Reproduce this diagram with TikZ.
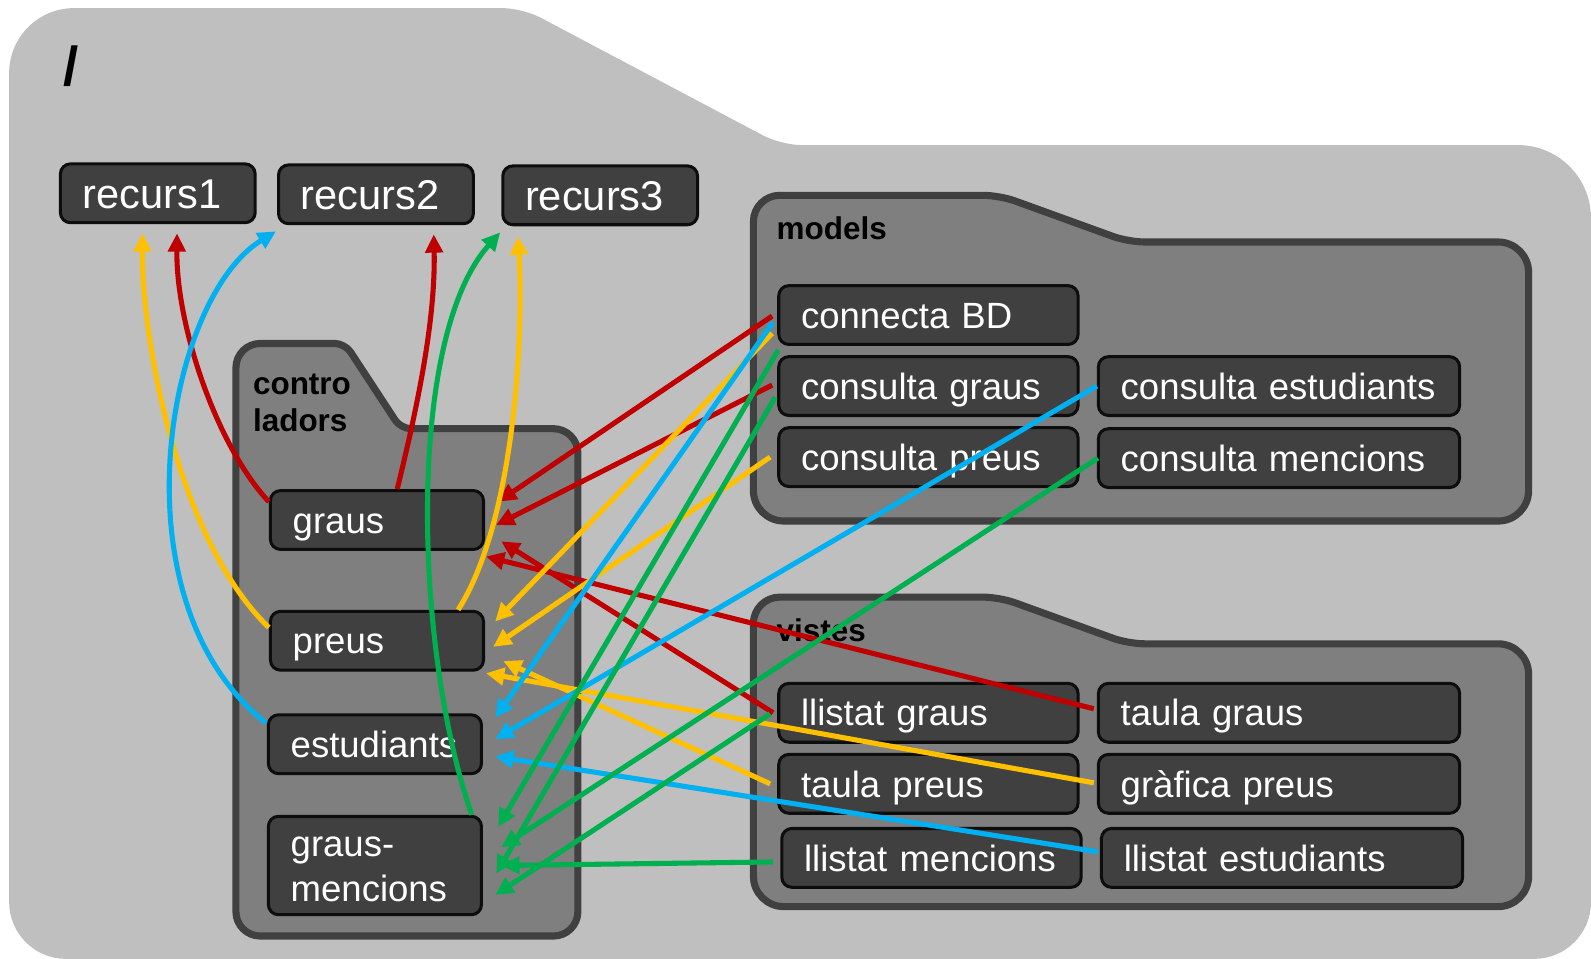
\documentclass[tikz,border=0pt]{standalone}
\usepackage{fontspec}
\setmainfont{Liberation Sans}
\usepackage{tikz}
\usetikzlibrary{arrows.meta,calc}

\definecolor{fonsgris}{HTML}{BFBFBF}
\definecolor{carpeta}{HTML}{7F7F7F}
\definecolor{vorafosca}{HTML}{404040}
\definecolor{caixa}{HTML}{404040}
\definecolor{voracaixa}{HTML}{0D0D0D}
\definecolor{cRed}{HTML}{C00000}
\definecolor{cYel}{HTML}{FFC000}
\definecolor{cBlue}{HTML}{00B0F0}
\definecolor{cGreen}{HTML}{00B050}

\begin{document}
\begin{tikzpicture}[x=0.5pt,y=-0.5pt,>={Triangle[length=9pt,width=8.5pt]},
  modul/.style={anchor=north west,draw=voracaixa,fill=caixa,line width=1.5pt,rounded corners=5pt,text=white,font=\fontsize{18}{22}\selectfont,minimum height=29pt,inner xsep=11pt,inner ysep=2pt,align=left},
  curt/.style={modul,text width=74pt,font=\fontsize{20.5}{24}\selectfont,text height=14.8pt,text depth=0pt},
  mig/.style={modul,text width=83pt,text height=13pt,text depth=0pt},
  doble/.style={modul,text width=83pt,minimum height=48.5pt,text height=13.4pt},
  llarg/.style={modul,text width=125.5pt,text height=13pt,text depth=0pt},
  ample/.style={modul,text width=156pt,text height=13pt,text depth=0pt},
  carp/.style={fill=carpeta,draw=vorafosca,line width=3.5pt},
  etiq/.style={anchor=west,inner sep=0pt,font=\fontsize{15.5}{18.5}\selectfont\bfseries,align=left},
  fletxa/.style={->,line width=2.5pt}]
\useasboundingbox (0,0) rectangle (1568,945);

% carpeta arrel
\fill[fonsgris,rounded corners=32pt] (9,945) -- (9,8) [rounded corners=10pt] -- (515,8) -- (770,143) [rounded corners=36pt] -- (1568,143) [rounded corners=28pt] -- (1568,945) -- cycle;
\node[font=\fontsize{27}{30}\selectfont\bfseries] (arrel) at (70,65) {/};

% subcarpetes
\draw[carp,rounded corners=12pt] (232.5,922.5) -- (232.5,338.5) [rounded corners=5pt] -- (340,338.5) -- (395,422.5) [rounded corners=12pt] -- (569.5,422.5) -- (569.5,922.5) -- cycle;
\draw[carp,rounded corners=13pt] (742.5,513.5) -- (742.5,192.5) [rounded corners=8pt] -- (985,192.5) -- (1112,238.5) [rounded corners=15pt] -- (1506.5,238.5) -- (1506.5,513.5) -- cycle;
\draw[carp,rounded corners=13pt] (742.5,893.5) -- (742.5,588.5) [rounded corners=8pt] -- (985,588.5) -- (1112,634.5) [rounded corners=15pt] -- (1506.5,634.5) -- (1506.5,893.5) -- cycle;
\node[etiq] (lcontrol) at (249,397) {contro\\ladors};
\node[etiq] (lmodels) at (765,225) {models};
\node[etiq] (lvistes) at (765,621) {vistes};

% recursos
\node[curt] (r1) at (58,160) {recurs1};
\node[curt] (r2) at (273,161) {recurs2};
\node[curt] (r3) at (494,162) {recurs3};

% controladors
\node[mig] (graus) at (265,482) {graus};
\node[mig] (preus) at (265,601) {preus};
\node[mig] (estud) at (263,703) {estudiants};
\node[doble] (grmen) at (263,803) {graus-\\mencions};

% models
\node[llarg] (conBD) at (766,280) {connecta BD};
\node[llarg] (conGraus) at (766,350) {consulta graus};
\node[llarg] (conPreus) at (766,420) {consulta preus};
\node[ample] (conEstud) at (1081,350) {consulta estudiants};
\node[ample] (conMenc) at (1081,421) {consulta mencions};

% vistes
\node[llarg] (llGraus) at (766,672) {llistat graus};
\node[llarg] (tPreus) at (766,742) {taula preus};
\node[llarg] (llMenc) at (769,815) {llistat mencions};
\node[ample] (tGraus) at (1081,672) {taula graus};
\node[ample] (grPreus) at (1081,742) {gràfica preus};
\node[ample] (llEstud) at (1084,815) {llistat estudiants};

% graus
\draw[fletxa,cRed] ($(graus.west)+(0,-18)$) .. controls +(-50,-53) and +(-1,93) .. ($(r1.south)+(19,9)$);
\draw[fletxa,cRed] ($(graus.north)+(20,0)$) .. controls +(15,-62) and +(2,92) .. ($(r2.south)+(57,9)$);
\draw[fletxa,cRed] ($(conBD.west)+(-5,1)$) -- ($(graus.east)+(13,-18)$);
\draw[fletxa,cRed] ($(conGraus.west)+(-5,-1)$) -- ($(graus.east)+(11,5)$);
\draw[fletxa,cRed] ($(llGraus.west)+(-4,0)$) -- ($(graus.east)+(16,21)$);
\draw[fletxa,cRed] ($(tGraus.west)+(-3,-4)$) -- ($(graus.east)+(1,36)$);

% preus
\draw[fletxa,cYel] ($(preus.west)+(0,-13)$) .. controls +(-90,-87) and +(-1,103) .. ($(r1.south)+(-15,9)$);
\draw[fletxa,cYel] ($(preus.north)+(80,0)$) .. controls +(55,-86) and +(6,100) .. ($(r3.south)+(-81,10)$);
\draw[fletxa,cYel] ($(conBD.west)+(-5,18)$) -- ($(preus.east)+(10,-19)$);
\draw[fletxa,cYel] ($(conPreus.west)+(-7,0)$) -- ($(preus.east)+(8,6)$);
\draw[fletxa,cYel] ($(tPreus.west)+(-7,0)$) -- ($(preus.east)+(18,20)$);
\draw[fletxa,cYel] ($(grPreus.west)+(-3,-1)$) -- ($(preus.east)+(1,32)$);

% estudiants
\draw[fletxa,cBlue] ($(estud.west)+(-1,-21)$) .. controls +(-152,-121) and +(-108,66) .. ($(r2.south west)+(-1,6)$);
\draw[fletxa,cBlue] ($(conBD.west)+(-4,7)$) -- ($(estud.east)+(12,-26)$);
\draw[fletxa,cBlue] (conEstud.west) -- ($(estud.east)+(12,-5)$);
\draw[fletxa,cBlue] ($(llEstud.west)+(-2,-6)$) -- ($(estud.east)+(12,12)$);

% graus-mencions
\draw[fletxa,cGreen] ($(grmen.north east)+(-11,0)$) .. controls +(-57,-163) and +(-93,104) .. ($(r3.south west)+(-1,6)$);
\draw[fletxa,cGreen] ($(conBD.south west)+(1,4)$) -- ($(grmen.east)+(15,-38)$);
\draw[fletxa,cGreen] ($(conGraus.west)+(-2,11)$) -- ($(grmen.east)+(13,8)$);
\draw[fletxa,cGreen] ($(conMenc.west)+(1,0)$) -- ($(grmen.east)+(18,-18)$);
\draw[fletxa,cGreen] ($(llGraus.west)+(-7,1)$) -- ($(grmen.east)+(12,29)$);
\draw[fletxa,cGreen] ($(llMenc.west)+(-7,4)$) -- ($(grmen.east)+(18,0)$);
\end{tikzpicture}
\end{document}
